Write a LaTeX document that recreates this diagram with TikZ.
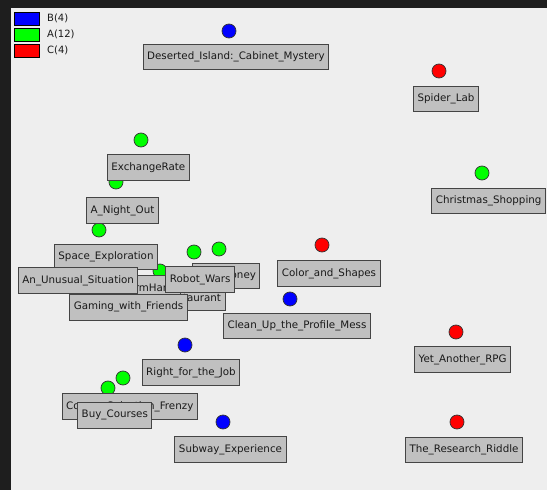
\documentclass[tikz,border=0pt]{standalone}
\usepackage{fontspec}
\setmainfont{DejaVu Sans}
\definecolor{bg}{HTML}{EEEEEE}
\definecolor{framec}{HTML}{1E1E1E}
\definecolor{boxfill}{HTML}{C0C0C0}
\definecolor{boxline}{HTML}{444444}
\definecolor{dotline}{HTML}{333333}
\definecolor{cB}{HTML}{0000FF}
\definecolor{cA}{HTML}{00FF00}
\definecolor{cC}{HTML}{FF0000}
\begin{document}
\begin{tikzpicture}[x=1pt,y=-1pt,
  lbl/.style={draw=boxline, fill=boxfill, line width=1pt, minimum height=25.6pt,
    inner xsep=4pt, inner ysep=0pt, font=\fontsize{10.3}{12}\selectfont, text=black!90},
  vtx/.style={circle, draw=dotline, line width=0.7pt, minimum size=14pt, inner sep=0pt},
  vB/.style={vtx, fill=cB}, vA/.style={vtx, fill=cA}, vC/.style={vtx, fill=cC},
  swatch/.style={draw=black, line width=0.8pt, minimum width=25pt, minimum height=13pt, inner sep=0pt},
  legtext/.style={anchor=west, inner sep=0pt, font=\fontsize{10}{12}\selectfont, text=black!90},
]
\useasboundingbox (0,0) rectangle (547,490);
\fill[bg] (0,0) rectangle (547,490);
\fill[framec] (0,0) rectangle (547,8);
\fill[framec] (0,0) rectangle (11,490);

% legend
\node[swatch, fill=cB] (swB) at (26.5,18.5) {};
\node[swatch, fill=cA] (swA) at (26.5,34.5) {};
\node[swatch, fill=cC] (swC) at (26.5,50.5) {};
\node[legtext] (tB) at (47,18.5) {B(4)};
\node[legtext] (tA) at (47,34.5) {A(12)};
\node[legtext] (tC) at (47,50.5) {C(4)};

% vertices
\node[vB] (v1) at (229,31) {};
\node[vB] (v2) at (290,299) {};
\node[vB] (v3) at (185,345) {};
\node[vB] (v4) at (223,422) {};
\node[vC] (v5) at (439,71) {};
\node[vC] (v6) at (322,245) {};
\node[vC] (v7) at (456,332) {};
\node[vC] (v8) at (457,422) {};
\node[vA] (v9) at (141,140) {};
\node[vA] (v10) at (116,182) {};
\node[vA] (v11) at (99,230) {};
\node[vA] (v12) at (482,173) {};
\node[vA] (v13) at (194,252) {};
\node[vA] (v14) at (219,249) {};
\node[vA] (v15) at (160,271) {};
\node[vA] (v16) at (108,388) {};
\node[vA] (v17) at (123,378) {};
\node[vA] (v18) at (71,253) {};
\node[vA] (v19) at (121.5,280) {};
\node[vA] (v20) at (145,261) {};

% labels
\node[lbl] (l1) at (236,57) {Deserted\_Island:\_Cabinet\_Mystery};
\node[lbl] (l5) at (446,99) {Spider\_Lab};
\node[lbl] (l9) at (148.3,167.7) {ExchangeRate};
\node[lbl] (l10) at (122.5,210.3) {A\_Night\_Out};
\node[lbl] (l12) at (488.7,201) {Christmas\_Shopping};
\node[lbl] (l6) at (329,273.3) {Color\_and\_Shapes};
\node[lbl] (l2) at (297,326) {Clean\_Up\_the\_Profile\_Mess};
\node[lbl] (l7) at (462.7,359.7) {Yet\_Another\_RPG};
\node[lbl] (l8) at (464,450) {The\_Research\_Riddle};
\node[lbl] (l4) at (230.5,449.5) {Subway\_Experience};
\node[lbl] (l3) at (191,372.7) {Right\_for\_the\_Job};
\node[lbl, text width=108pt, align=right] (l15) at (167,298) {Restaurant};
\node[lbl, anchor=west] (l20) at (119,288) {FarmHand};
\node[lbl, text width=59.3pt, align=right] (l14) at (226.3,276) {Money};
\node[lbl] (l11) at (106,257) {Space\_Exploration};
\node[lbl] (l18) at (78.2,280.5) {An\_Unusual\_Situation};
\node[lbl] (l19) at (128.5,307.2) {Gaming\_with\_Friends};
\node[lbl] (l13) at (200.2,279.5) {Robot\_Wars};
\node[lbl] (l17) at (129.7,406.3) {Course\_Selection\_Frenzy};
\node[lbl] (l16) at (114.8,415.3) {Buy\_Courses};
\end{tikzpicture}
\end{document}
